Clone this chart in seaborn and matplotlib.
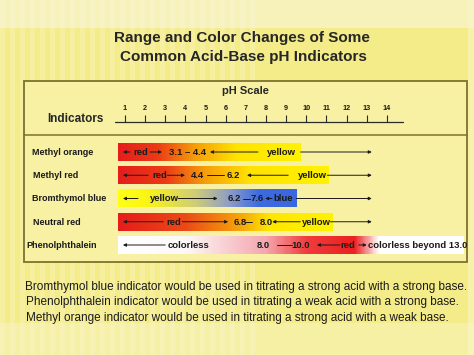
import numpy as np
import pandas as pd
import seaborn as sns
import matplotlib.pyplot as plt
from matplotlib.colors import LinearSegmentedColormap, to_rgb
from matplotlib.patches import Rectangle

sns.set_theme(style='white')
plt.rcParams['font.family'] = ['Liberation Sans', 'DejaVu Sans']

# ---- data ----
indicators = ['Methyl orange', 'Methyl red', 'Bromthymol blue', 'Neutral red', 'Phenolphthalein']
bar_start = [0.65, 0.65, 0.65, 0.65, 0.65]
bar_end = [9.7, 11.1, 9.5, 11.3, 17.8]
ph_ticks = list(range(1, 15))

# text written on each bar: (pH, text)
bar_texts = [
    [(1.8, 'red'), (4.08, '3.1 – 4.4'), (8.77, 'yellow')],
    [(2.73, 'red'), (4.62, '4.4'), (6.37, '6.2'), (10.3, 'yellow')],
    [(2.94, 'yellow'), (6.43, '6.2'), (7.55, '7.6'), (8.87, 'blue')],
    [(3.4, 'red'), (6.71, '6.8'), (8.0, '8.0'), (10.5, 'yellow')],
    [(4.13, 'colorless'), (7.85, '8.0'), (9.74, '10.0'), (12.07, 'red')],
]
beyond_ph = 13.05
beyond_text = 'colorless beyond 13.0'

# arrows on each bar: (tail pH, head pH)
bar_arrows = [
    [(1.25, 0.9), (2.24, 2.84), (7.6, 5.22), (9.72, 13.25)],
    [(2.15, 0.9), (3.1, 3.98), (9.1, 7.06), (11.04, 13.25)],
    [(1.65, 0.9), (3.64, 5.6), (8.3, 7.96), (9.5, 13.25)],
    [(2.9, 0.9), (3.84, 6.12), (9.7, 8.31), (11.2, 13.25)],
    [(3.0, 0.9), (11.67, 10.53), (12.6, 13.0)],
]
# plain dashes on each bar: (from pH, to pH)
bar_dashes = [
    [],
    [(5.08, 5.92)],
    [(6.87, 7.2)],
    [(6.97, 7.3)],
    [(8.55, 9.3)],
]

# colour along each bar: (pH, colour)
bar_colors = [
    [(0.65, '#e51d1b'), (2.6, '#ec3b16'), (4.4, '#f59a0a'), (6.5, '#ffe300'), (9.7, '#fff200')],
    [(0.65, '#e51d1b'), (3.0, '#ec3b16'), (5.0, '#f6a00a'), (7.2, '#ffe200'), (11.1, '#fff200')],
    [(0.65, '#ffff14'), (2.0, '#fbf614'), (4.5, '#cfcc78'), (6.2, '#8c9cc8'), (7.6, '#3e6be0'), (9.5, '#3a66df')],
    [(0.65, '#e51d1b'), (4.0, '#ec4a16'), (6.8, '#f6a80a'), (8.2, '#ffe600'), (11.3, '#fff200')],
    [(0.65, '#ffffff'), (4.0, '#fdf8f8'), (8.0, '#f4a6ae'), (10.0, '#f03c3c'), (12.4, '#ec2020'),
     (13.6, '#ffffff'), (17.8, '#ffffff')],
]

df = pd.DataFrame({'Indicator': indicators, 'start': bar_start, 'end': bar_end})

# ---- figure ----
W, H = 474, 355
fig = plt.figure(figsize=(W / 100, H / 100), dpi=100)

# background texture
bg = fig.add_axes([0, 0, 1, 1], zorder=-2)
yy, xx = np.mgrid[0:H, 0:W]
base = np.array(to_rgb('#f4ec88'))
img = np.ones((H, W, 3)) * base
stripe = ((xx // 5) % 2 == 0) & (xx < 260)
img[stripe] = np.array(to_rgb('#f6efa0'))
top = yy < 28
img[top] = img[top] * 0.45 + np.array(to_rgb('#fbf8e2')) * 0.55
bottom = yy > 322
img[bottom] = img[bottom] * 0.6 + np.array(to_rgb('#faf6d0')) * 0.4
img[:, 468:] = img[:, 468:] * 0.5 + np.array(to_rgb('#faf6cc')) * 0.5
bg.imshow(img, aspect='auto', extent=[0, W, H, 0])
bg.axis('off')

# frame
fig.patches.append(Rectangle((24 / W, 1 - 262 / H), 443 / W, 181 / H, transform=fig.transFigure,
                             facecolor='#f8f1a3', edgecolor='#7d722c', lw=1.3, zorder=-1))
fig.lines.append(plt.Line2D([24 / W, 467 / W], [1 - 135 / H, 1 - 135 / H], transform=fig.transFigure,
                            color='#7d722c', lw=1.1))

ax = fig.add_axes([0, 0, 1, 1])
ax.patch.set_alpha(0)
sns.barplot(data=df, x='end', y='Indicator', orient='h', ax=ax, color='white', width=0.77)

x0 = -104.8 / 20.15
x1 = (W - 104.8) / 20.15
y_top = -152 / 23.25
y_bot = (H - 152) / 23.25

for i, p in enumerate(ax.patches):
    s, e = bar_start[i], bar_end[i]
    p.set_x(s)
    p.set_width(e - s)
    p.set_facecolor('none')
    p.set_edgecolor('none')
    stops = bar_colors[i]
    cmap = LinearSegmentedColormap.from_list(
        'g%d' % i, [((v - s) / (e - s), c) for v, c in stops])
    yb, h = p.get_y(), p.get_height()
    ax.imshow(np.linspace(0, 1, 300)[None, :], cmap=cmap, aspect='auto',
              extent=[s, e, yb + h, yb], zorder=1)

    for v, t in bar_texts[i]:
        ax.text(v, i + 0.02, t, ha='center', va='center', fontsize=6.8, fontweight='bold',
                color='#1a1a1a', zorder=3)
    for tail, head in bar_arrows[i]:
        ax.annotate('', xy=(head, i), xytext=(tail, i), zorder=3,
                    arrowprops=dict(arrowstyle='-|>', color='#1a1a1a', lw=0.7,
                                    mutation_scale=4.5, shrinkA=0, shrinkB=0))
    for a, b in bar_dashes[i]:
        ax.plot([a, b], [i, i], color='#1a1a1a', lw=0.7, zorder=3)

ax.text(beyond_ph, 4.02, beyond_text, ha='left', va='center', fontsize=6.8,
        fontweight='bold', color='#1a1a1a', zorder=3)

# pH scale
scale_y = (122 - 152) / 23.25
tick_y = (115 - 152) / 23.25
label_y = (108 - 152) / 23.25
ax.plot([0.51, 14.8], [scale_y, scale_y], color='#2a2a2a', lw=0.9)
ax.vlines(ph_ticks, scale_y, tick_y, color='#2a2a2a', lw=0.8)
for t in ph_ticks:
    ax.text(t, label_y, str(t), ha='center', va='center', fontsize=5.2, fontweight='bold', color='#1a1a1a')

ax.set_xlim(x0, x1)
ax.set_ylim(y_bot, y_top)
ax.axis('off')

# row labels
label_x = [32, 33, 32, 33, 26]
for i, name in enumerate(indicators):
    ax.text(label_x[i] / W, i + 0.02, name, transform=ax.get_yaxis_transform(), ha='left',
            va='center', fontsize=6.5, fontweight='bold', color='#1a1a1a')

fig.text(245 / W, 1 - 91 / H, 'pH Scale', ha='center', va='center', fontsize=8, fontweight='bold')
fig.text(75 / W, 1 - 119 / H, 'Indicators', ha='center', va='center', fontsize=8.5, fontweight='bold')

fig.text(242 / W, 1 - 38 / H, 'Range and Color Changes of Some', ha='center', va='center',
         fontsize=11, fontweight='bold')
fig.text(243 / W, 1 - 57 / H, 'Common Acid-Base pH Indicators', ha='center', va='center',
         fontsize=11, fontweight='bold')

notes = ['Bromthymol blue indicator would be used in titrating a strong acid with a strong base.',
         'Phenolphthalein indicator would be used in titrating a weak acid with a strong base.',
         'Methyl orange indicator would be used in titrating a strong acid with a weak base.']
note_x = [25, 26, 26]
note_y = [287, 302, 318]
for t, nx, ny in zip(notes, note_x, note_y):
    fig.text(nx / W, 1 - ny / H, t, ha='left', va='center', fontsize=8.5, color='#1a1a1a')

fig.savefig('out.png', dpi=100)
